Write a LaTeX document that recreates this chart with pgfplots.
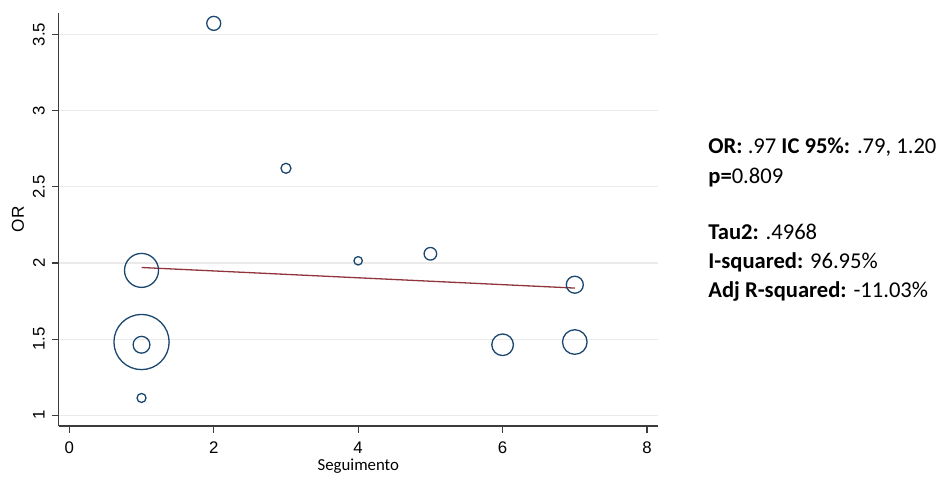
\documentclass[border=0pt]{standalone}
\usepackage{pgfplots}
\pgfplotsset{compat=1.18}
\usepackage{fontspec}
\setmainfont{Liberation Sans}
\newfontfamily\arialf{Liberation Sans}
\newfontfamily\calib{Carlito}
\definecolor{statanavy}{HTML}{1A476F}
\definecolor{statared}{HTML}{90353B}
\definecolor{gridc}{HTML}{EAEAEA}
\definecolor{axc}{HTML}{3C3C3C}
\begin{document}
\begin{tikzpicture}
\begin{axis}[
  at={(0,0)}, anchor=south west,
  scale only axis,
  width=299.65pt, height=206.65pt,
  xmin=-0.147, xmax=8.152,
  ymin=0.93, ymax=3.642,
  axis x line*=bottom, axis y line*=left,
  axis line style={axc, line width=0.6pt},
  xtick={0,2,4,6,8},
  ytick={1,1.5,2,2.5,3,3.5},
  yticklabels={1,1.5,2,2.5,3,3.5},
  xticklabels={0,2,4,6,8},
  tick align=outside,
  major tick length=3.5pt,
  tick style={axc, line width=0.6pt},
  ymajorgrids,
  major grid style={gridc, line width=0.6pt},
  /pgf/number format/assume math mode=true,
  xticklabel style={font=\arialf\fontsize{8.4}{10}\selectfont, anchor=center, yshift=-7.5pt},
  yticklabel style={font=\arialf\fontsize{8.4}{10}\selectfont, xshift=-6.4pt, rotate=90, anchor=center},
  xlabel={Seguimento},
  xlabel style={font=\calib\fontsize{8.4}{10}\selectfont, at={(axis description cs:0.5,-0.0968)}, anchor=center},
  ylabel={OR},
  ylabel style={font=\arialf\fontsize{8.6}{10}\selectfont, at={(axis description cs:-0.0678,0.5)}, anchor=center},
  clip=false,
]
\addplot[scatter, only marks, mark=o, line width=0.65pt,
  scatter/use mapped color={draw=statanavy},
  visualization depends on={\thisrow{r} \as \rad},
  scatter/@pre marker code/.append style={/tikz/mark size=\rad pt}]
  table[x=x, y=y] {
x y r
1 1.481 13.8
1 1.951 8.5
1 1.463 4.2
1 1.114 2.25
2 3.572 3.5
3 2.621 2.5
4 2.014 2.1
5 2.060 3.15
6 1.463 5.4
7 1.481 6.15
7 1.857 4.25
};
\addplot[statared, line width=0.65pt] coordinates {(1,1.970) (7,1.835)};
\end{axis}
\begin{scope}[every node/.style={anchor=base west, inner sep=0pt, font=\calib\fontsize{11.3}{13}\selectfont}]
\node at (324.65pt,136pt) {\textbf{OR:} .97 \textbf{IC 95\%:} .79, 1.20};
\node at (324.65pt,121pt) {\textbf{p=}0.809};
\node at (324.65pt,93pt) {\textbf{Tau2:} .4968};
\node at (324.65pt,78.5pt) {\textbf{I-squared:} 96.95\%};
\node at (324.65pt,64pt) {\textbf{Adj R-squared:} -11.03\%};
\end{scope}
\path[use as bounding box] (-29.35pt,-26.5pt) rectangle (445.65pt,213pt);
\end{tikzpicture}
\end{document}
